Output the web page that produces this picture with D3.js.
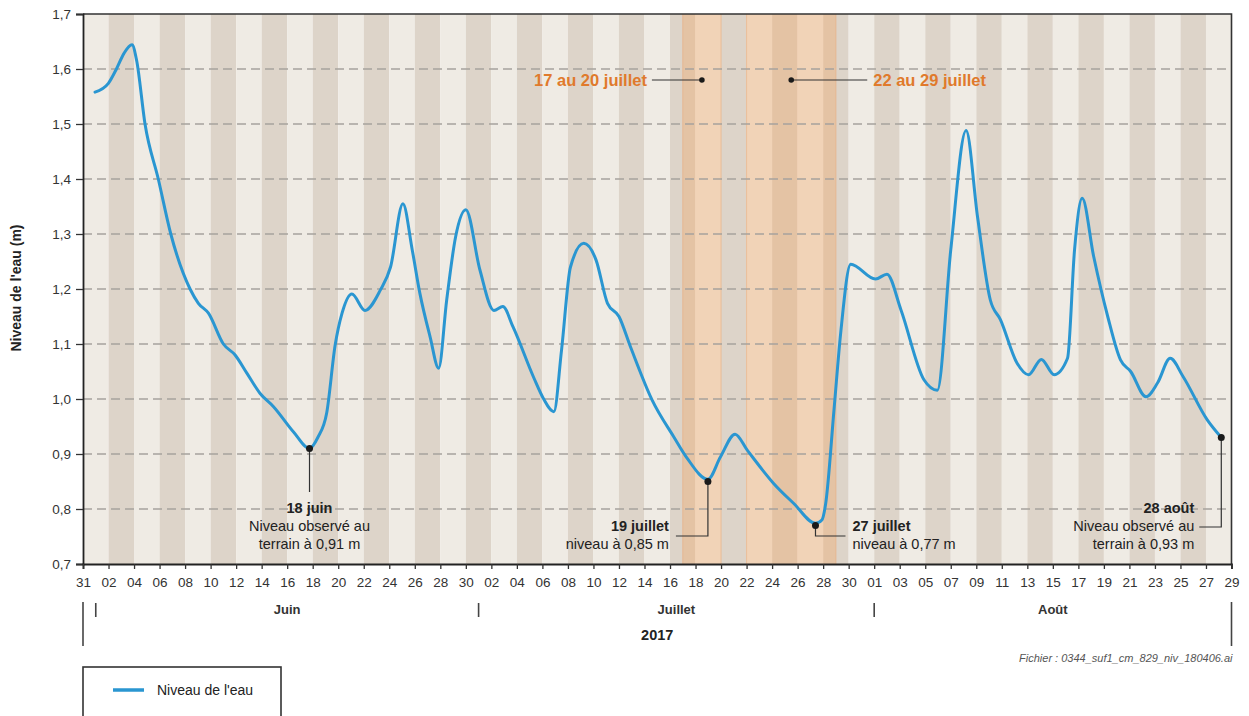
<!DOCTYPE html>
<html>
<head>
<meta charset="utf-8">
<script src="https://cdn.jsdelivr.net/npm/d3@7"></script>
<style>
  html, body { margin: 0; padding: 0; background: #ffffff; }
  svg { display: block; font-family: "Liberation Sans", Arial, Helvetica, sans-serif; }
</style>
</head>
<body>
<svg id="chart" width="1249" height="716"></svg>
<script>
// ---------------- DATA ----------------
// observation times, in days since 31 May 2017 (00:00)
const obsDays = [
  0.94, 1.99, 2.64, 3.2, 3.84, 4.2, 4.86, 5.9, 6.88, 8.39, 9.04, 9.83, 11.0, 11.92, 12.84,
  13.88, 14.93, 16.5, 17.75, 18.4, 19.1, 19.76, 20.3, 21.07, 22.1, 23.3, 24.1, 25.07, 25.8,
  26.4, 27.2, 27.87, 28.5, 29.2, 30.0, 31.1, 32.2, 32.9, 33.7, 35.3, 36.1, 36.9, 37.5, 38.2,
  39.24, 40.2, 41.1, 42.0, 42.9, 44.6, 46.3, 47.35, 48.97, 49.96, 51.1, 52.05, 54.1, 55.7,
  57.4, 57.9, 58.2, 58.85, 59.37, 60.16, 62.1, 63.0, 64.1, 65.9, 66.95, 68.0, 69.2, 70.1,
  71.1, 71.9, 73.2, 74.1, 75.1, 76.1, 77.15, 77.7, 78.3, 79.2, 80.3, 81.3, 82.1, 83.3, 84.2,
  85.2, 86.2, 88.1, 89.2
];
// water level (m)
const obsLevels = [
  1.558, 1.574, 1.601, 1.628, 1.644, 1.616, 1.50, 1.40, 1.30, 1.20, 1.174, 1.156, 1.10, 1.08, 1.047,
  1.01, 0.986, 0.94, 0.91, 0.93, 0.975, 1.098, 1.156, 1.191, 1.161, 1.198, 1.24, 1.355, 1.271,
  1.192, 1.113, 1.056, 1.18, 1.295, 1.344, 1.235, 1.161, 1.168, 1.131, 1.04, 1.0, 0.977, 1.089, 1.24,
  1.283, 1.253, 1.174, 1.15, 1.095, 0.998, 0.931, 0.892, 0.854, 0.895, 0.936, 0.907, 0.847, 0.81,
  0.774, 0.78, 0.81, 0.98, 1.119, 1.245, 1.218, 1.227, 1.162, 1.035, 1.016, 1.271, 1.488, 1.331,
  1.18, 1.144, 1.065, 1.044, 1.072, 1.044, 1.074, 1.271, 1.365, 1.259, 1.15, 1.071, 1.05, 1.004, 1.029,
  1.074, 1.041, 0.962, 0.93
];
const yTicks = [0.7, 0.8, 0.9, 1.0, 1.1, 1.2, 1.3, 1.4, 1.5, 1.6, 1.7];
const gridLevels = [0.8, 0.9, 1.0, 1.1, 1.2, 1.3, 1.4, 1.5, 1.6];
const months = ["Juin", "Juillet", "Août"];
const monthStarts = ["2017-06-01", "2017-07-01", "2017-08-01"];
const yearLabel = "2017";
// highlighted periods (start day, end day)
const periodStarts = ["2017-07-17", "2017-07-22"];
const periodEnds = ["2017-07-20", "2017-07-29"];
const periodLabels = ["17 au 20 juillet", "22 au 29 juillet"];
// annotated observations
const noteDays = [17.75, 48.97, 57.4, 89.2];
const noteLevels = [0.91, 0.85, 0.77, 0.93];
const noteTitles = ["18 juin", "19 juillet", "27 juillet", "28 août"];
const noteLines = [
  ["Niveau observé au", "terrain à 0,91 m"],
  ["niveau à 0,85 m"],
  ["niveau à 0,77 m"],
  ["Niveau observé au", "terrain à 0,93 m"]
];
const legendLabel = "Niveau de l'eau";
const yTitle = "Niveau de l'eau (m)";
const fileNote = "Fichier : 0344_suf1_cm_829_niv_180406.ai";

// ---------------- SETUP ----------------
const svg = d3.select("#chart");
const FONT = '"Liberation Sans", Arial, Helvetica, sans-serif';
const L = 83, R = 1231.5, T = 14, B = 564;
const t0 = new Date(Date.UTC(2017, 4, 31));
const t1 = new Date(Date.UTC(2017, 7, 29));
const toDate = d => new Date(t0.getTime() + d * 864e5);
const parse = d3.utcParse("%Y-%m-%d");

const x = d3.scaleUtc().domain([t0, t1]).range([L, R]);
const y = d3.scaleLinear().domain([0.7, 1.7]).range([B, T]);

const series = obsDays.map((d, i) => ({ t: toDate(d), v: obsLevels[i] }));

// stripes (2-day alternating bands)
const stripeStarts = d3.utcDay.range(t0, t1, 2);
svg.append("g").selectAll("rect").data(stripeStarts).join("rect")
  .attr("x", d => x(d))
  .attr("y", T)
  .attr("width", d => x(d3.utcDay.offset(d, 2)) - x(d))
  .attr("height", B - T)
  .attr("fill", (d, i) => i % 2 === 0 ? "#efebe4" : "#ddd4c9");

// highlighted periods
const periods = periodStarts.map((s, i) => ({ s: parse(s), e: parse(periodEnds[i]), label: periodLabels[i] }));
const pg = svg.append("g");
pg.selectAll("rect").data(periods).join("rect")
  .attr("x", d => x(d.s)).attr("y", T)
  .attr("width", d => x(d.e) - x(d.s)).attr("height", B - T)
  .attr("fill", "#f59a50").attr("fill-opacity", 0.3);
pg.selectAll("line.edge").data(periods.flatMap(d => [d.s, d.e])).join("line")
  .attr("class", "edge")
  .attr("x1", d => x(d)).attr("x2", d => x(d))
  .attr("y1", T).attr("y2", B)
  .attr("stroke", "#e9b58c").attr("stroke-width", 0.8);

// grid lines
svg.append("g").selectAll("line").data(gridLevels).join("line")
  .attr("x1", L).attr("x2", R)
  .attr("y1", d => y(d)).attr("y2", d => y(d))
  .attr("stroke", "#a6a29d").attr("stroke-width", 1.3)
  .attr("stroke-dasharray", "9,5");

// top period annotations
const topY = 80;
const orange = "#e07a2c";
const pa = svg.append("g");
periods.forEach((p, i) => {
  const mid = new Date((p.s.getTime() + p.e.getTime()) / 2);
  const cx = x(mid);
  const left = i === 0;
  const x2 = left ? cx - 50 : cx + 76;
  pa.append("line").attr("x1", cx).attr("x2", x2).attr("y1", topY).attr("y2", topY)
    .attr("stroke", "#333").attr("stroke-width", 1.2);
  pa.append("circle").attr("cx", cx).attr("cy", topY).attr("r", 2.8).attr("fill", "#1a1a1a");
  pa.append("text")
    .attr("x", left ? x2 - 5 : x2 + 6).attr("y", topY + 6)
    .attr("text-anchor", left ? "end" : "start")
    .attr("font-size", 16.5).attr("font-weight", "bold").attr("fill", orange)
    .text(p.label);
});

// line
svg.append("path").datum(series)
  .attr("fill", "none")
  .attr("stroke", "#2a96d1")
  .attr("stroke-width", 3)
  .attr("stroke-linejoin", "round")
  .attr("stroke-linecap", "round")
  .attr("d", d3.line().x(d => x(d.t)).y(d => y(d.v)).curve(d3.curveMonotoneX));

// point annotations
const ng = svg.append("g").attr("font-size", 14.5).attr("fill", "#222");
const notes = noteDays.map((d, i) => ({ t: toDate(d), v: noteLevels[i], title: noteTitles[i], lines: noteLines[i] }));
notes.forEach((n, i) => {
  const px = x(n.t), py = y(n.v);
  let pts, tx, anchor, ty0;
  if (i === 0) {
    pts = [[px, py], [px, 492]]; tx = px; anchor = "middle"; ty0 = 513;
  } else if (i === 1) {
    pts = [[px, py], [px, 536], [px - 32, 536]]; tx = px - 39; anchor = "end"; ty0 = 531;
  } else if (i === 2) {
    pts = [[px, py], [px, 536], [px + 30, 536]]; tx = px + 37; anchor = "start"; ty0 = 531;
  } else {
    pts = [[px, py], [px, 527], [px - 22, 527]]; tx = px - 27; anchor = "end"; ty0 = 513;
  }
  ng.append("path").attr("d", d3.line()(pts))
    .attr("fill", "none").attr("stroke", "#333").attr("stroke-width", 1.2);
  ng.append("circle").attr("cx", px).attr("cy", py).attr("r", 3.5).attr("fill", "#1a1a1a");
  const tt = ng.append("text").attr("x", tx).attr("y", ty0).attr("text-anchor", anchor);
  tt.append("tspan").attr("x", tx).attr("font-weight", "bold").text(n.title);
  n.lines.forEach(s => tt.append("tspan").attr("x", tx).attr("dy", 18).text(s));
});

// frame (top & right)
svg.append("path")
  .attr("d", `M${L},${T}H${R}V${B}`)
  .attr("fill", "none").attr("stroke", "#333").attr("stroke-width", 1.6);

// axes
const yAxis = d3.axisLeft(y).tickValues(yTicks)
  .tickFormat(d => d.toFixed(1).replace(".", ","))
  .tickSize(7).tickPadding(5);
const gy = svg.append("g").attr("transform", `translate(${L},0)`).call(yAxis);
gy.select(".domain").attr("stroke", "#222").attr("stroke-width", 1.8);
gy.selectAll(".tick line").attr("stroke", "#333").attr("stroke-width", 1.3);
gy.selectAll(".tick text").attr("font-family", FONT).attr("font-size", 13.5).attr("fill", "#333");

const xTicks = d3.utcDay.range(t0, d3.utcDay.offset(t1, 1), 2);
const xAxis = d3.axisBottom(x).tickValues(xTicks)
  .tickFormat(d3.utcFormat("%d")).tickSize(5).tickPadding(8);
const gx = svg.append("g").attr("transform", `translate(0,${B})`).call(xAxis);
gx.select(".domain").attr("stroke", "#222").attr("stroke-width", 1.8);
gx.selectAll(".tick line").attr("stroke", "#333").attr("stroke-width", 1.3);
gx.selectAll(".tick text").attr("font-family", FONT).attr("font-size", 13.5).attr("fill", "#333");

// y title
svg.append("text")
  .attr("transform", `translate(21,288) rotate(-90)`)
  .attr("text-anchor", "middle")
  .attr("font-size", 14).attr("font-weight", "bold").attr("fill", "#222")
  .text(yTitle);

// month row
const mStarts = monthStarts.map(parse);
const mg = svg.append("g");
mg.selectAll("line.m").data(mStarts).join("line").attr("class", "m")
  .attr("x1", d => x(d)).attr("x2", d => x(d)).attr("y1", 603).attr("y2", 617)
  .attr("stroke", "#444").attr("stroke-width", 1.6);
mg.selectAll("line.ends").data([t0, t1]).join("line").attr("class", "ends")
  .attr("x1", d => x(d)).attr("x2", d => x(d)).attr("y1", 602).attr("y2", 646)
  .attr("stroke", "#444").attr("stroke-width", 1.6);
const mEnds = [mStarts[1], mStarts[2], t1];
mg.selectAll("text").data(months).join("text")
  .attr("x", (d, i) => (x(mStarts[i]) + x(mEnds[i])) / 2)
  .attr("y", 614)
  .attr("text-anchor", "middle")
  .attr("font-size", 13).attr("font-weight", "bold").attr("fill", "#333")
  .text(d => d);
svg.append("text")
  .attr("x", (L + R) / 2).attr("y", 640)
  .attr("text-anchor", "middle")
  .attr("font-size", 14.5).attr("font-weight", "bold").attr("fill", "#222")
  .text(yearLabel);

// file note
svg.append("text")
  .attr("x", R + 1).attr("y", 662)
  .attr("text-anchor", "end")
  .attr("font-size", 11).attr("font-style", "italic").attr("fill", "#555")
  .text(fileNote);

// legend
const lg = svg.append("g");
lg.append("rect").attr("x", L).attr("y", 667).attr("width", 198).attr("height", 80)
  .attr("fill", "#fff").attr("stroke", "#333").attr("stroke-width", 1.6);
lg.append("line").attr("x1", 113).attr("x2", 144).attr("y1", 690).attr("y2", 690)
  .attr("stroke", "#2a96d1").attr("stroke-width", 3.5);
lg.append("text").attr("x", 157).attr("y", 695)
  .attr("font-size", 14).attr("fill", "#222").text(legendLabel);
</script>
</body>
</html>
